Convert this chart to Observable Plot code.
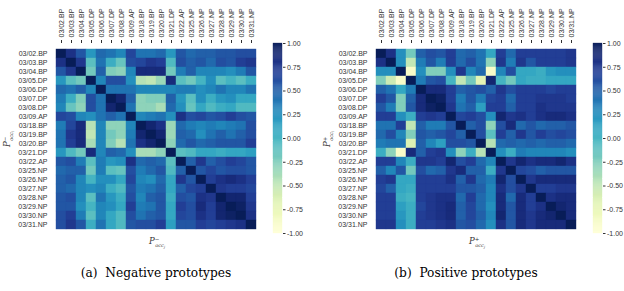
<!DOCTYPE html>
<html>
<head>
<meta charset="utf-8">
<script src="https://cdn.jsdelivr.net/npm/d3@7"></script>
<script src="https://cdn.jsdelivr.net/npm/@observablehq/plot@0.6"></script>
<style>
  html, body { margin: 0; padding: 0; background: #fff; }
  #root { position: relative; width: 624px; height: 291px; overflow: hidden; background: #fff; }
  .piece { position: absolute; top: 0; }
  .cap { position: absolute; top: 266px; font-family: "DejaVu Serif", "Liberation Serif", serif; font-size: 12.2px; color: #000; white-space: pre; text-align: center; }
</style>
</head>
<body>
<div id="root"></div>
<script>
const labels = ["03/02.BP","03/03.BP","03/04.BP","03/05.DP","03/06.DP","03/07.DP","03/08.DP","03/09.AP","03/18.BP","03/19.BP","03/20.BP","03/21.DP","03/22.AP","03/25.NP","03/26.NP","03/27.NP","03/28.NP","03/29.NP","03/30.NP","03/31.NP"];

// (a) negative prototypes — correlation matrix (rows = P_occ_i, cols = P_occ_j)
const negValues = [
  [1.00,0.80,0.55,0.20,0.45,0.40,0.30,0.65,0.40,0.40,0.45,0.20,0.55,0.45,0.50,0.50,0.55,0.55,0.60,0.60],
  [0.80,1.00,0.75,-0.10,0.40,0.05,-0.15,0.60,0.65,0.75,0.70,-0.05,0.60,0.50,0.55,0.45,0.60,0.55,0.70,0.75],
  [0.55,0.75,1.00,-0.20,0.50,-0.25,-0.30,0.30,0.85,0.85,0.85,-0.20,0.35,0.50,0.30,0.30,0.30,0.25,0.35,0.55],
  [0.20,-0.10,-0.20,1.00,0.30,0.60,0.60,0.25,-0.45,-0.50,-0.35,0.85,-0.10,-0.20,0.00,0.25,-0.10,0.00,-0.10,0.05],
  [0.45,0.40,0.50,0.30,1.00,0.40,0.40,0.40,0.30,0.30,0.30,0.30,0.35,0.35,0.25,0.30,0.40,0.30,0.30,0.40],
  [0.35,0.05,-0.25,0.60,0.40,1.00,0.90,0.50,-0.30,-0.25,-0.25,0.50,0.20,-0.10,0.25,0.05,0.20,0.25,0.10,0.10],
  [0.30,-0.15,-0.30,0.60,0.40,0.90,1.00,0.40,-0.30,-0.30,-0.40,0.45,0.25,-0.15,0.10,-0.05,0.05,0.10,-0.05,-0.05],
  [0.65,0.60,0.30,0.25,0.40,0.50,0.40,1.00,0.30,0.35,0.40,0.25,0.80,0.60,0.65,0.55,0.60,0.70,0.60,0.55],
  [0.35,0.65,0.85,-0.45,0.30,-0.30,-0.30,0.30,1.00,0.90,0.80,-0.35,0.45,0.35,0.30,0.35,0.30,0.35,0.40,0.60],
  [0.40,0.75,0.85,-0.50,0.30,-0.20,-0.30,0.35,0.90,1.00,0.90,-0.35,0.50,0.45,0.25,0.40,0.50,0.40,0.50,0.60],
  [0.40,0.70,0.85,-0.40,0.30,-0.25,-0.45,0.40,0.80,0.90,1.00,-0.30,0.45,0.55,0.45,0.50,0.55,0.55,0.55,0.70],
  [0.20,-0.05,-0.20,0.85,0.30,0.50,0.45,0.25,-0.40,-0.40,-0.30,1.00,-0.10,-0.05,0.10,0.10,0.05,0.10,0.10,0.15],
  [0.55,0.60,0.35,-0.10,0.35,0.20,0.25,0.80,0.45,0.50,0.45,-0.10,1.00,0.50,0.75,0.50,0.60,0.70,0.65,0.55],
  [0.45,0.50,0.50,-0.20,0.35,-0.10,-0.15,0.60,0.35,0.45,0.55,-0.05,0.50,1.00,0.55,0.65,0.55,0.60,0.60,0.55],
  [0.50,0.55,0.30,0.00,0.25,0.25,0.10,0.65,0.30,0.25,0.45,0.10,0.75,0.55,1.00,0.70,0.80,0.85,0.80,0.70],
  [0.50,0.45,0.30,0.25,0.30,0.05,-0.05,0.55,0.35,0.40,0.50,0.10,0.50,0.65,0.70,1.00,0.75,0.70,0.70,0.65],
  [0.55,0.60,0.30,-0.10,0.40,0.20,0.05,0.60,0.30,0.50,0.55,0.05,0.60,0.55,0.80,0.75,1.00,0.90,0.90,0.70],
  [0.55,0.55,0.25,0.00,0.30,0.25,0.10,0.70,0.35,0.40,0.55,0.10,0.70,0.60,0.85,0.70,0.90,1.00,0.95,0.75],
  [0.60,0.70,0.35,-0.10,0.30,0.10,-0.05,0.60,0.40,0.50,0.55,0.10,0.65,0.60,0.80,0.70,0.90,0.95,1.00,0.80],
  [0.60,0.75,0.55,0.05,0.40,0.10,-0.05,0.55,0.60,0.60,0.70,0.15,0.55,0.55,0.70,0.65,0.70,0.75,0.80,1.00]
];

// (b) positive prototypes
const posValues = [
  [1.00,0.80,0.25,-0.20,0.50,0.60,0.55,0.70,0.45,0.50,0.40,0.10,0.70,0.45,0.70,0.70,0.70,0.70,0.70,0.75],
  [0.80,1.00,0.25,-0.50,0.35,0.55,0.35,0.70,0.45,0.60,0.40,-0.30,0.75,0.35,0.75,0.55,0.70,0.70,0.70,0.75],
  [0.25,0.25,1.00,-0.90,0.25,-0.25,-0.25,0.25,0.75,0.30,0.45,-0.90,0.30,0.60,0.10,0.10,0.05,0.20,0.25,0.25],
  [-0.25,-0.55,-0.90,1.00,0.35,0.55,0.60,0.00,-0.50,-0.20,-0.70,0.90,0.00,-0.20,0.10,0.05,0.05,0.10,0.10,0.10],
  [0.50,0.40,0.10,0.35,1.00,0.85,0.85,0.70,0.50,0.55,0.60,0.50,0.75,0.60,0.70,0.70,0.70,0.65,0.70,0.70],
  [0.70,0.55,-0.25,0.50,0.85,1.00,0.95,0.70,0.35,0.55,0.35,0.65,0.70,0.45,0.70,0.70,0.75,0.75,0.75,0.70],
  [0.55,0.35,-0.25,0.55,0.85,0.95,1.00,0.75,0.40,0.50,0.15,0.70,0.70,0.50,0.70,0.70,0.80,0.75,0.75,0.75],
  [0.70,0.70,0.25,0.05,0.70,0.75,0.70,1.00,0.65,0.70,0.60,0.25,0.90,0.75,0.80,0.70,0.80,0.85,0.85,0.80],
  [0.40,0.40,0.70,-0.50,0.50,0.35,0.35,0.55,1.00,0.50,0.60,-0.30,0.60,0.85,0.45,0.55,0.45,0.50,0.50,0.55],
  [0.45,0.60,0.30,-0.25,0.55,0.50,0.55,0.65,0.50,1.00,0.60,-0.10,0.70,0.50,0.75,0.55,0.70,0.60,0.65,0.60],
  [0.35,0.40,0.40,-0.65,0.50,0.30,0.15,0.60,0.60,0.55,1.00,-0.45,0.45,0.50,0.45,0.50,0.45,0.50,0.50,0.45],
  [0.05,-0.30,-0.90,0.85,0.50,0.70,0.75,0.25,-0.30,0.05,-0.45,1.00,0.25,0.05,0.35,0.30,0.30,0.30,0.30,0.25],
  [0.70,0.70,0.30,0.05,0.75,0.75,0.70,0.90,0.60,0.70,0.45,0.30,1.00,0.75,0.90,0.80,0.85,0.85,0.90,0.80],
  [0.50,0.30,0.55,-0.20,0.60,0.45,0.50,0.75,0.85,0.50,0.50,0.05,0.75,1.00,0.65,0.60,0.50,0.55,0.55,0.55],
  [0.70,0.75,0.10,0.10,0.70,0.70,0.70,0.80,0.50,0.75,0.45,0.35,0.90,0.60,1.00,0.75,0.85,0.85,0.85,0.85],
  [0.65,0.50,0.10,0.05,0.70,0.70,0.70,0.70,0.55,0.55,0.50,0.30,0.80,0.60,0.75,1.00,0.70,0.70,0.75,0.75],
  [0.70,0.70,0.05,0.00,0.70,0.75,0.80,0.80,0.45,0.70,0.45,0.30,0.85,0.45,0.85,0.70,1.00,0.80,0.85,0.85],
  [0.70,0.70,0.15,0.05,0.65,0.75,0.80,0.85,0.50,0.65,0.45,0.25,0.85,0.55,0.85,0.70,0.80,1.00,0.90,0.85],
  [0.70,0.70,0.20,0.05,0.70,0.75,0.80,0.85,0.50,0.65,0.50,0.30,0.90,0.55,0.85,0.75,0.85,0.90,1.00,0.85],
  [0.75,0.75,0.25,0.05,0.70,0.70,0.75,0.80,0.55,0.60,0.45,0.25,0.80,0.55,0.85,0.75,0.85,0.85,0.85,1.00]
];

const colorTicks = [1, 0.75, 0.5, 0.25, 0, -0.25, -0.5, -0.75, -1];
const captions = ["(a)  Negative prototypes", "(b)  Positive prototypes"];
const signs = ["\u2212", "+"];

const root = document.getElementById("root");
const FONT = "'Liberation Sans', Arial, sans-serif";
const colorOpts = {type: "linear", scheme: "ylgnbu", domain: [-1, 1]};

function heatmap(values, sign, left) {
  const table = [];
  values.forEach((row, i) => row.forEach((v, j) => table.push({row: labels[i], col: labels[j], v})));
  const chart = Plot.plot({
    width: 272, height: 250,
    marginLeft: 52, marginRight: 12, marginTop: 42, marginBottom: 15,
    style: {fontFamily: FONT, fontSize: "7px", color: "#333", background: "transparent"},
    x: {domain: labels, axis: "top", tickRotate: -90, tickSize: 3, tickPadding: 2, label: null, padding: 0},
    y: {domain: labels, tickSize: 0, tickPadding: 5, label: null, padding: 0},
    color: colorOpts,
    marks: [
      Plot.cell(table, {x: "col", y: "row", fill: "v", stroke: "v", strokeWidth: 0.4, inset: 0})
    ]
  });
  const svg = d3.select(chart);
  const ty = svg.append("text")
    .attr("transform", "translate(10,139) rotate(-90)")
    .attr("text-anchor", "middle")
    .attr("font-family", "'DejaVu Serif', serif").attr("font-style", "italic")
    .attr("font-size", 8.5).attr("fill", "#333");
  ty.append("tspan").text("P");
  ty.append("tspan").attr("font-size", 5.5).attr("dy", -3.5).attr("font-style", "normal").text(sign);
  ty.append("tspan").attr("font-size", 5).attr("dx", -4).attr("dy", 6).text("occ");
  ty.append("tspan").attr("font-size", 3.5).attr("dy", 1).text("i");
  const tx = svg.append("text")
    .attr("transform", "translate(157,244)")
    .attr("text-anchor", "middle")
    .attr("font-family", "'DejaVu Serif', serif").attr("font-style", "italic")
    .attr("font-size", 8.5).attr("fill", "#333");
  tx.append("tspan").text("P");
  tx.append("tspan").attr("font-size", 5.5).attr("dy", -3.5).attr("font-style", "normal").text(sign);
  tx.append("tspan").attr("font-size", 5).attr("dx", -4).attr("dy", 6).text("occ");
  tx.append("tspan").attr("font-size", 3.5).attr("dy", 1).text("j");
  chart.classList.add("piece");
  chart.style.left = left + "px";
  root.appendChild(chart);
}

function colorbar(left) {
  const steps = d3.range(0, 200).map(k => ({y1: -1 + k * 0.01, y2: -1 + (k + 1) * 0.01, v: -1 + (k + 0.5) * 0.01}));
  const bar = Plot.plot({
    width: 50, height: 250,
    marginLeft: 8, marginRight: 33, marginTop: 43, marginBottom: 17,
    style: {fontFamily: FONT, fontSize: "7px", color: "#333", background: "transparent"},
    x: {domain: [0, 1], axis: null},
    y: {domain: [-1, 1], axis: "right", ticks: colorTicks, tickSize: 2.5, tickPadding: 2,
        tickFormat: d => d.toFixed(2), label: null},
    color: colorOpts,
    marks: [
      Plot.rect(steps, {x1: 0, x2: 1, y1: "y1", y2: "y2", fill: "v", stroke: "v", strokeWidth: 0.3})
    ]
  });
  bar.classList.add("piece");
  bar.style.left = left + "px";
  root.appendChild(bar);
}

heatmap(negValues, signs[0], 0);
colorbar(265);
heatmap(posValues, signs[1], 320);
colorbar(585);

[[78, 156], [390, 152]].forEach(([x, w], i) => {
  const d = document.createElement("div");
  d.className = "cap";
  d.style.left = x + "px";
  d.style.width = w + "px";
  d.textContent = captions[i];
  root.appendChild(d);
});
</script>
</body>
</html>
